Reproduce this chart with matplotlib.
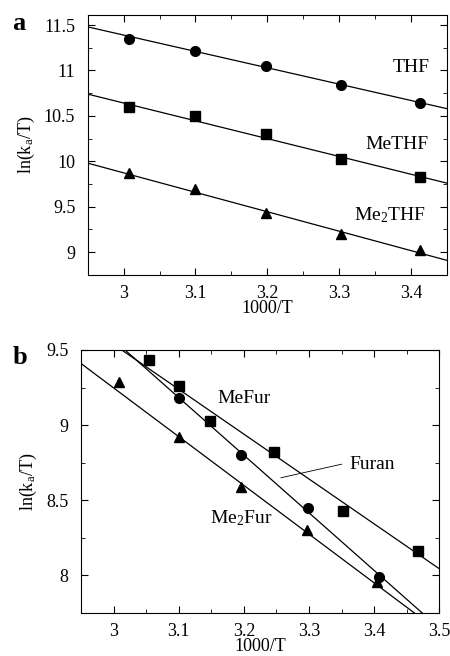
import numpy as np
import matplotlib
matplotlib.use('Agg')
import matplotlib.pyplot as plt
from matplotlib.ticker import MultipleLocator, FormatStrFormatter

plt.rcParams['font.family'] = ['Liberation Serif', 'DejaVu Serif']
plt.rcParams['mathtext.fontset'] = 'custom'
plt.rcParams['mathtext.rm'] = 'Liberation Serif'
plt.rcParams['mathtext.it'] = 'Liberation Serif:italic'

# panel a data
xa = [3.008, 3.1, 3.198, 3.302, 3.413]
thf = [11.35, 11.22, 11.05, 10.84, 10.64]
methf = [10.60, 10.50, 10.30, 10.03, 9.83]
me2thf = [9.87, 9.69, 9.43, 9.20, 9.02]
# fitted lines (end points)
fit_x_a = [2.95, 3.45]
fit_thf = [11.48, 10.58]
fit_methf = [10.74, 9.76]
fit_me2thf = [9.98, 8.91]

# panel b data
x_mefur = [3.055, 3.101, 3.148, 3.246, 3.353, 3.467]
mefur = [9.43, 9.26, 9.03, 8.82, 8.43, 8.16]
x_furan = [3.1, 3.196, 3.298, 3.408]
furan = [9.18, 8.80, 8.45, 7.99]
x_me2fur = [3.009, 3.1, 3.196, 3.297, 3.405]
me2fur = [9.29, 8.92, 8.59, 8.30, 7.955]
fit_mefur_x = [3.0125, 3.5]
fit_mefur = [9.5, 8.045]
fit_furan_x = [3.0175, 3.474]
fit_furan = [9.5, 7.75]
fit_me2fur_x = [2.95, 3.462]
fit_me2fur = [9.41, 7.75]

fig = plt.figure(figsize=(4.5, 6.56), dpi=100)

def style(ax):
    ax.tick_params(which='both', direction='in', top=True, right=True, labelsize=13)
    ax.tick_params(which='major', length=5)
    ax.tick_params(which='minor', length=3)
    ax.tick_params(axis='y', which='major', pad=9)
    ax.tick_params(axis='x', which='major', pad=7)
    ax.xaxis.set_major_locator(MultipleLocator(0.1))
    ax.xaxis.set_minor_locator(MultipleLocator(0.05))
    ax.yaxis.set_major_locator(MultipleLocator(0.5))
    ax.yaxis.set_minor_locator(MultipleLocator(0.25))
    ax.xaxis.set_major_formatter(FormatStrFormatter('%g'))
    ax.yaxis.set_major_formatter(FormatStrFormatter('%g'))
    ax.set_xlabel('1000/T', fontsize=13, labelpad=-1)
    ax.set_ylabel(r'ln(k$_\mathrm{a}$/T)', fontsize=13, labelpad=5)
    for s in ax.spines.values():
        s.set_linewidth(0.8)

# ---- a ----
ax1 = fig.add_axes([0.195, 0.581, 0.798, 0.396])
ax1.plot(fit_x_a, fit_thf, 'k-', lw=0.9)
ax1.plot(fit_x_a, fit_methf, 'k-', lw=0.9)
ax1.plot(fit_x_a, fit_me2thf, 'k-', lw=0.9)
ax1.plot(xa, thf, 'ko', ms=7)
ax1.plot(xa, methf, 'ks', ms=7)
ax1.plot(xa, me2thf, 'k^', ms=7)
ax1.set_xlim(2.95, 3.45)
ax1.set_ylim(8.75, 11.61)
ax1.text(3.40, 11.03, 'THF', fontsize=14, ha='center', va='center')
ax1.text(3.38, 10.18, 'MeTHF', fontsize=14, ha='center', va='center')
ax1.text(3.37, 9.41, r'Me$_2$THF', fontsize=14, ha='center', va='center')
style(ax1)
fig.text(0.028, 0.964, 'a', fontsize=19, fontweight='bold', ha='left', va='center')

# ---- b ----
ax2 = fig.add_axes([0.18, 0.0655, 0.796, 0.401])
ax2.plot(fit_mefur_x, fit_mefur, 'k-', lw=0.9)
ax2.plot(fit_furan_x, fit_furan, 'k-', lw=0.9)
ax2.plot(fit_me2fur_x, fit_me2fur, 'k-', lw=0.9)
ax2.plot(x_mefur, mefur, 'ks', ms=7)
ax2.plot(x_furan, furan, 'ko', ms=7)
ax2.plot(x_me2fur, me2fur, 'k^', ms=7)
ax2.set_xlim(2.95, 3.5)
ax2.set_ylim(7.75, 9.5)
ax2.text(3.2, 9.18, 'MeFur', fontsize=14, ha='center', va='center')
ax2.text(3.397, 8.74, 'Furan', fontsize=14, ha='center', va='center')
ax2.plot([3.257, 3.35], [8.65, 8.74], 'k-', lw=0.6)
ax2.text(3.196, 8.38, r'Me$_2$Fur', fontsize=14, ha='center', va='center')
style(ax2)
fig.text(0.028, 0.455, 'b', fontsize=19, fontweight='bold', ha='left', va='center')

fig.savefig('out.png', dpi=100)
